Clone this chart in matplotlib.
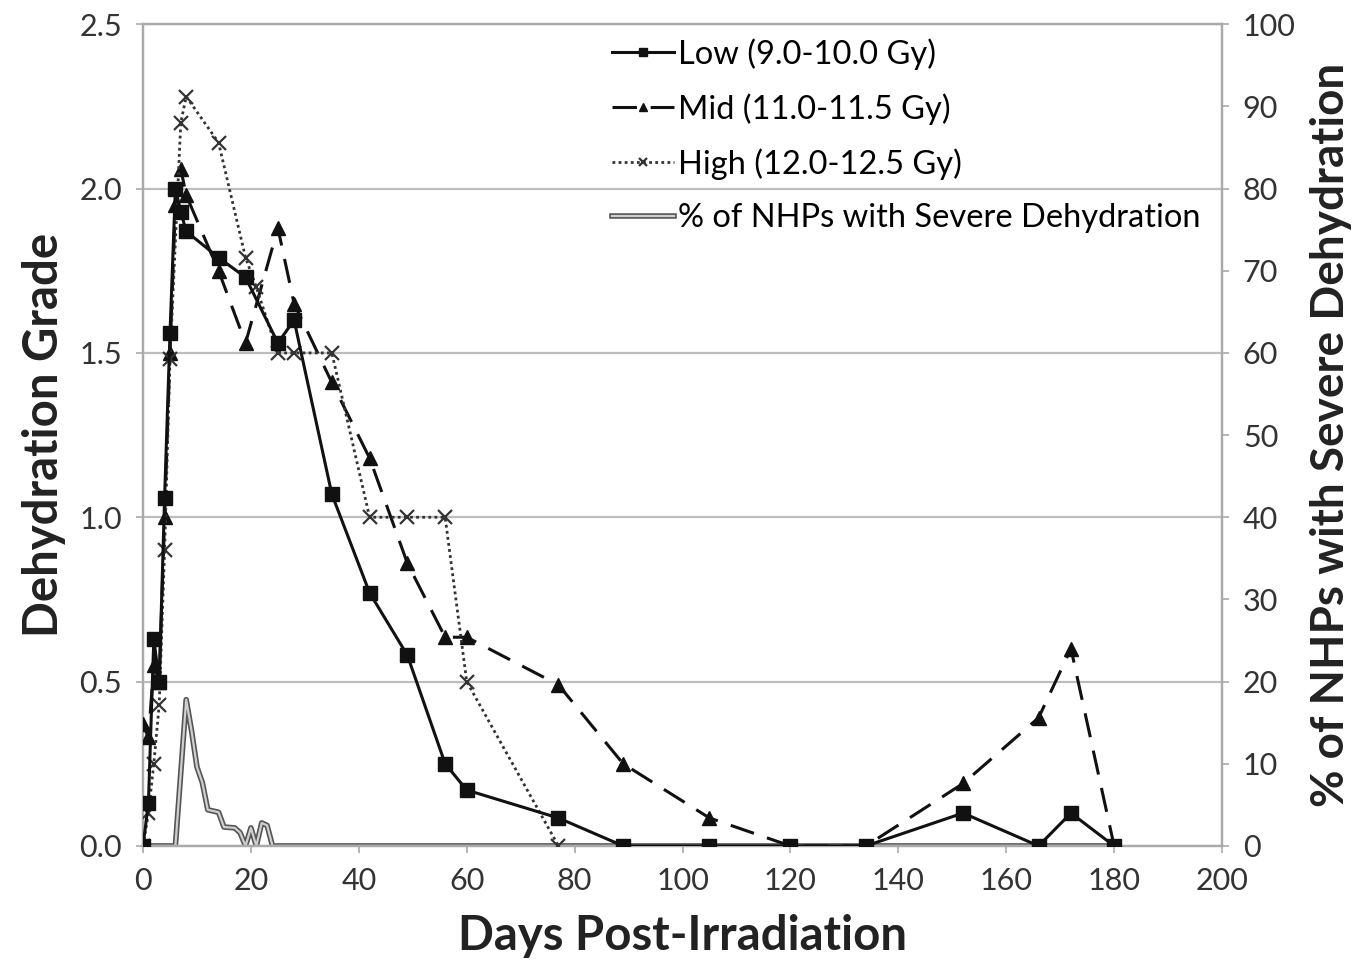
import matplotlib
matplotlib.use("Agg")
import matplotlib.pyplot as plt
import matplotlib.patheffects as pe

plt.rcParams["font.family"] = ["Lato", "DejaVu Sans"]

# ── Data ─────────────────────────────────────────────────────
low_days = [0, 1, 2, 3, 4, 5, 6, 7, 8, 14, 19, 25, 28, 35, 42, 49, 56, 60,
            77, 89, 105, 120, 134, 152, 166, 172, 180]
low_grade = [0, 0.13, 0.63, 0.5, 1.06, 1.56, 2.0, 1.93, 1.87, 1.79, 1.73, 1.53,
             1.6, 1.07, 0.77, 0.58, 0.25, 0.17, 0.085, 0, 0, 0, 0, 0.1, 0, 0.1, 0]

mid_days = [0, 1, 2, 3, 4, 5, 6, 7, 8, 14, 19, 25, 28, 35, 42, 49, 56, 60,
            77, 89, 105, 120, 134, 152, 166, 172, 180]
mid_grade = [0.37, 0.33, 0.55, 0.5, 1.0, 1.5, 1.95, 2.06, 1.98, 1.75, 1.53, 1.88,
             1.65, 1.41, 1.18, 0.86, 0.635, 0.635, 0.49, 0.25, 0.085, 0, 0,
             0.19, 0.39, 0.6, 0]

high_days = [0, 1, 2, 3, 4, 5, 7, 8, 14, 19, 21, 25, 28, 35, 42, 49, 56, 60, 77]
high_grade = [0, 0.1, 0.25, 0.43, 0.9, 1.48, 2.2, 2.28, 2.14, 1.79, 1.7, 1.5,
              1.5, 1.5, 1.0, 1.0, 1.0, 0.5, 0]

sev_days = [0, 6, 8, 9, 10, 11, 12, 14, 15, 17, 18, 19, 20, 21, 22, 23, 24, 180]
sev_pct = [0, 0, 17.8, 14, 9.6, 7.7, 4.4, 4.1, 2.3, 2.2, 1.6, 0, 2.2, 0, 2.8,
           2.5, 0, 0]

labels = ["Low (9.0-10.0 Gy)", "Mid (11.0-11.5 Gy)", "High (12.0-12.5 Gy)",
          "% of NHPs with Severe Dehydration"]

# ── Figure ───────────────────────────────────────────────────
fig = plt.figure(figsize=(13.66, 9.69), dpi=100)
ax = fig.add_axes([0.1047, 0.127, 0.7899, 0.848])
ax2 = ax.twinx()

grid_c = "#bdbdbd"
ax.set_xlim(0, 200)
ax.set_ylim(0, 2.5)
ax.set_yticks([0, 0.5, 1.0, 1.5, 2.0, 2.5])
ax.set_yticklabels([f"{v:.1f}" for v in [0, 0.5, 1.0, 1.5, 2.0, 2.5]])
ax.set_xticks(range(0, 201, 20))
ax.yaxis.grid(True, color=grid_c, linewidth=1.6)
ax.set_axisbelow(True)

ax2.set_ylim(0, 100)
ax2.set_yticks(range(0, 101, 10))

for a in (ax, ax2):
    for s in a.spines.values():
        s.set_color("#aaaaaa")
        s.set_linewidth(1.6)
    a.tick_params(colors="#aaaaaa", labelcolor="#333333", labelsize=22,
                  length=5, width=1.2, pad=10)

l_sev, = ax2.plot(sev_days, sev_pct, color="#cfcfcf", linewidth=1.6,
                  path_effects=[pe.Stroke(linewidth=4, foreground="#555555"),
                                pe.Normal()], zorder=1)

l_low, = ax.plot(low_days, low_grade, color="#111111", linewidth=2.2,
                 marker="s", markersize=10, zorder=4)
l_mid, = ax.plot(mid_days, mid_grade, color="#111111", linewidth=2.2,
                 linestyle=(0, (8, 4.5)), marker="^", markersize=10, zorder=3)
l_high, = ax.plot(high_days, high_grade, color="#333333", linewidth=2.0,
                  linestyle=(0, (1, 1.2)), marker="x", markersize=10,
                  markeredgewidth=1.6, zorder=3)

ax.set_zorder(ax2.get_zorder() + 1)
ax.patch.set_visible(False)

ax.set_xlabel("Days Post-Irradiation", fontsize=34, fontweight="bold",
              color="#222222", labelpad=14)
ax.set_ylabel("Dehydration Grade", fontsize=34, fontweight="bold",
              color="#222222", labelpad=10)
ax2.set_ylabel("% of NHPs with Severe Dehydration", fontsize=33,
               fontweight="bold", color="#222222", labelpad=10)

ax.legend([l_low, l_mid, l_high, l_sev], labels, loc="upper left",
          bbox_to_anchor=(0.41, 1.015), frameon=False, fontsize=23.5,
          handlelength=1.9, handletextpad=0.15, labelspacing=0.72,
          borderpad=0.3, markerscale=0.6)

plt.savefig("out.png", dpi=100)
plt.close()
